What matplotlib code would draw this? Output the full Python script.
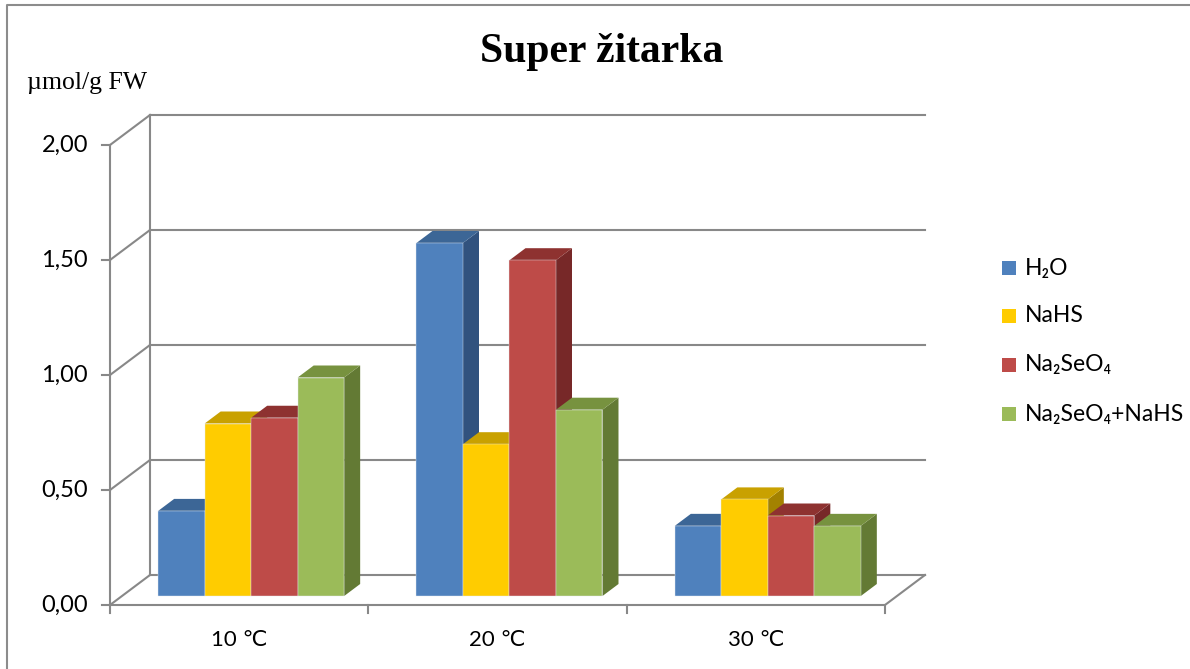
import matplotlib
matplotlib.use('Agg')
import matplotlib.pyplot as plt
from matplotlib.patches import Polygon, Rectangle
from matplotlib.lines import Line2D

# data
categories = ['10 \u2103', '20 \u2103', '30 \u2103']
series = ['H\u2082O', 'NaHS', 'Na\u2082SeO\u2084', 'Na\u2082SeO\u2084+NaHS']
h2o = [0.37, 1.535, 0.305]
nahs = [0.75, 0.66, 0.42]
na2seo4 = [0.775, 1.46, 0.35]
mix = [0.95, 0.81, 0.305]
values = [h2o, nahs, na2seo4, mix]
yticks = [0.0, 0.5, 1.0, 1.5, 2.0]
ytick_labels = ['0,00', '0,50', '1,00', '1,50', '2,00']

# face colours: front, top, side
front = ['#4F81BD', '#FFCC00', '#BE4B48', '#9BBB59']
top = ['#3C6696', '#C9A100', '#8E3230', '#77923F']
side = ['#31527E', '#A38200', '#772828', '#637A34']
grid_c = '#888888'
font = ['Lato', 'DejaVu Sans']

W, H = 1190, 669
pxc, pxv = 258.33, 230.0      # pixels per category / per value unit
x0, y0 = 110, 605             # pixel of front origin
dx, dy = 40 / pxc, 30 / pxv   # full depth offset in data units

fig = plt.figure(figsize=(W / 100, H / 100), dpi=100)
ax = fig.add_axes([0, 0, 1, 1])
ax.set_xlim(-x0 / pxc, (W - x0) / pxc)
ax.set_ylim((y0 - H) / pxv, y0 / pxv)
ax.axis('off')

lw = 1.5
ncat = len(categories)
# back wall gridlines and left wall diagonals
for v in yticks:
    ax.plot([dx, ncat + dx], [v + dy, v + dy], color=grid_c, lw=lw, zorder=1)
    ax.plot([0, dx], [v, v + dy], color=grid_c, lw=lw, zorder=1)
    ax.plot([-0.03, 0], [v, v], color=grid_c, lw=lw, zorder=1)
ax.plot([dx, dx], [dy, 2 + dy], color=grid_c, lw=lw, zorder=1)
ax.plot([0, 0], [0, 2], color=grid_c, lw=lw, zorder=1)
# floor
ax.plot([0, ncat, ncat + dx], [0, 0, dy], color=grid_c, lw=lw, zorder=1)
for c in range(ncat + 1):
    ax.plot([c, c], [0, -0.035], color=grid_c, lw=lw, zorder=1)

# bars, drawn left to right so each hides the side of the previous one
gap = 0.28
bw = (1 - gap) / len(series)
d0, d1 = 0.3, 0.7
z = 2
for c in range(ncat):
    for j in range(len(series)):
        v = values[j][c]
        xl = c + gap / 2 + j * bw + d0 * dx
        yb = d0 * dy
        ddx, ddy = (d1 - d0) * dx, (d1 - d0) * dy
        xr = xl + bw
        yt = v + yb
        ax.add_patch(Polygon([(xr, yb), (xr + ddx, yb + ddy), (xr + ddx, yt + ddy), (xr, yt)],
                             closed=True, fc=side[j], ec='none', zorder=z))
        ax.add_patch(Polygon([(xl, yt), (xr, yt), (xr + ddx, yt + ddy), (xl + ddx, yt + ddy)],
                             closed=True, fc=top[j], ec='none', zorder=z))
        ax.add_patch(Rectangle((xl, yb), bw, v, fc=front[j], ec='#e4e9f0', lw=0.3, zorder=z))
        z += 1

# axis labels
for v, lab in zip(yticks, ytick_labels):
    ax.text(-22 / pxc, v, lab, ha='right', va='center', fontsize=17, family=font)
for c, lab in enumerate(categories):
    ax.text(c + 0.5, -35 / pxv, lab, ha='center', va='center', fontsize=16, family=font)

# title and unit
fig.text(602 / W, 1 - 52 / H, 'Super \u017eitarka', ha='center', va='center',
         fontsize=30, fontweight='bold', family='Liberation Serif')
fig.text(27 / W, 1 - 83 / H, '\u00b5mol/g FW', ha='left', va='center',
         fontsize=18.5, family='Liberation Serif')

# legend
leg_y = [268, 316, 365, 414]
for name, col, yy in zip(series, front, leg_y):
    fig.patches.append(Rectangle((1002 / W, 1 - (yy + 7) / H), 14 / W, 14 / H,
                                 transform=fig.transFigure, fc=col, ec='none'))
    fig.text(1025 / W, 1 - yy / H, name, ha='left', va='center', fontsize=16.5, family=font)

# chart border
fig.lines.append(Line2D([7 / W, 7 / W, 1], [0, 1 - 5 / H, 1 - 5 / H],
                        transform=fig.transFigure, color='#8c8c8c', lw=1.5))

fig.savefig('out.png', dpi=100)
